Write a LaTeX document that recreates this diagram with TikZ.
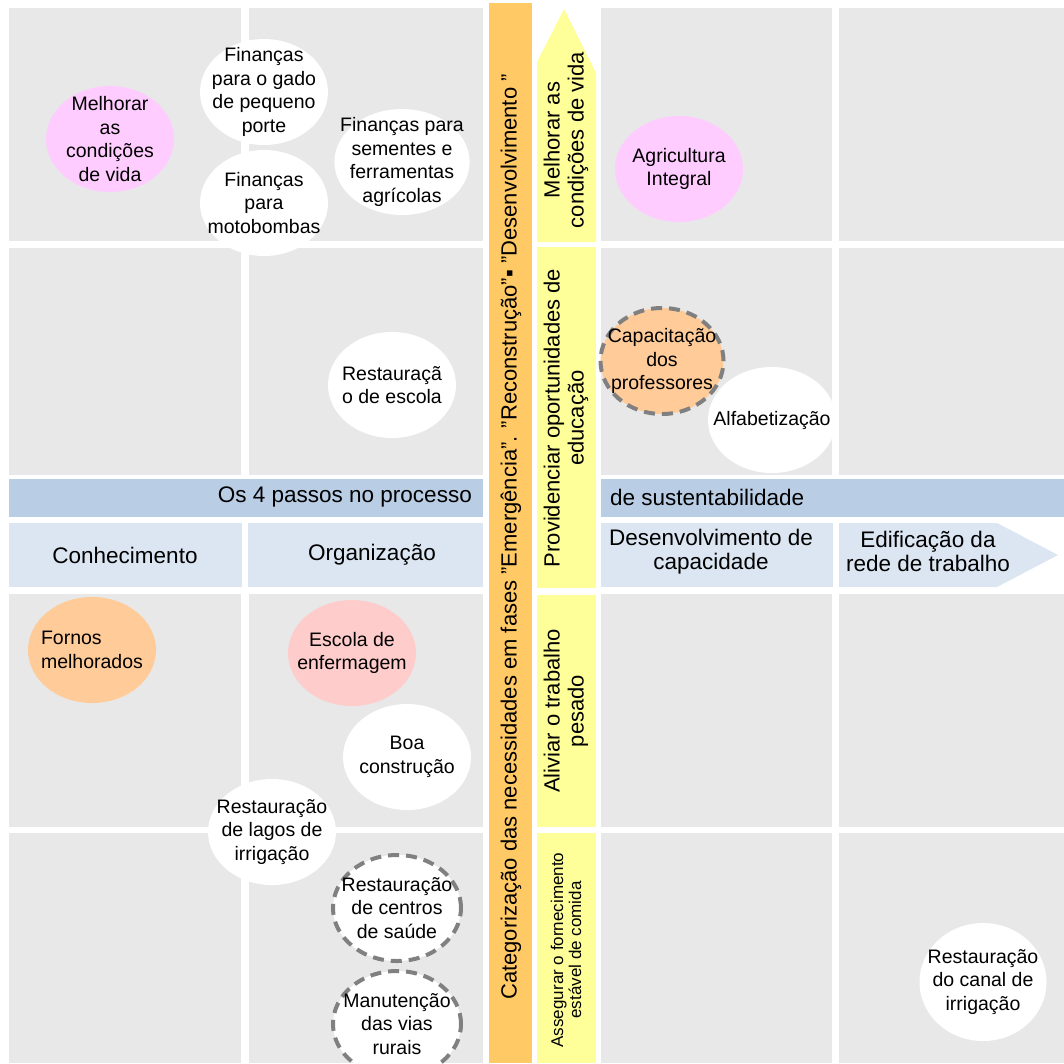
\documentclass[tikz,border=0pt]{standalone}
\usepackage{fontspec}
\setmainfont{Liberation Sans}
\usetikzlibrary{shapes.geometric}

\definecolor{cellgray}{HTML}{E8E8E8}
\definecolor{bandorange}{HTML}{FFC966}
\definecolor{bandyellow}{HTML}{FFFF99}
\definecolor{headblue}{HTML}{B9CDE5}
\definecolor{steplight}{HTML}{DCE6F2}
\definecolor{pinkfill}{HTML}{FFCCFF}
\definecolor{peachfill}{HTML}{FFCC99}
\definecolor{salmonfill}{HTML}{FFCCCC}
\definecolor{ringgray}{HTML}{808080}

\begin{document}
\begin{tikzpicture}[x=1pt,y=-1pt,
  cell/.style={fill=cellgray},
  bubble/.style={ellipse,fill=white,inner sep=-14pt,minimum width=128pt,minimum height=106pt,
    align=center,font=\fontsize{19.5}{23.5}\selectfont},
  dashring/.style={draw=ringgray,line width=4pt,dash pattern=on 11pt off 7pt},
  head/.style={align=center,inner sep=0pt,font=\fontsize{22.5}{24}\selectfont},
  side/.style={head,rotate=90,font=\fontsize{22}{24}\selectfont}]

  \useasboundingbox (0,0) rectangle (1064,1063);

  \foreach \xa/\xb in {9/241,249/483,601/832,839/1064}
    \foreach \ya/\yb in {8/241,248/475,594/827,833/1063}
      \fill[cell] (\xa,\ya) rectangle (\xb,\yb);

  \fill[headblue] (9,479) rectangle (483,517);
  \fill[headblue] (601,479) rectangle (1064,517);
  \fill[steplight] (9,523) rectangle (242,587);
  \fill[steplight] (248,523) rectangle (483,587);
  \fill[steplight] (601,523) rectangle (833,587);
  \fill[steplight] (839,523) -- (997,523) -- (1058,555) -- (997,587) -- (839,587) -- cycle;

  \fill[bandorange] (489,3) rectangle (532,1063);
  \fill[bandyellow] (537,242) -- (537,62) -- (564,9) -- (596,73) -- (596,242) -- cycle;
  \fill[bandyellow] (537,247) rectangle (596,588);
  \fill[bandyellow] (537,595) rectangle (596,827);
  \fill[bandyellow] (537,833) rectangle (596,1063);

  \node[head,anchor=east] (passos) at (472,497) {Os 4 passos no processo};
  \node[head,anchor=west] (sustent) at (610,497) {de sustentabilidade};
  \node[head] (conhec) at (125,555) {Conhecimento};
  \node[head] (organiz) at (372,555) {Organização};
  \node[head] (desenv) at (711,552) {Desenvolvimento de\\capacidade};
  \node[head] (edific) at (928,551) {Edificação da\\rede de trabalho};

  \node[side] (fases) at (511,537) {Categorização das necessidades em fases "Emergência". "Reconstrução"▪ "Desenvolvimento "};
  \node[side] (mvida) at (566,140) {Melhorar as\\condições de vida};
  \node[side] (educ) at (566,418) {Providenciar oportunidades de\\educação};
  \node[side] (pesado) at (566,711) {Aliviar o trabalho\\pesado};
  \node[side,font=\fontsize{17}{18}\selectfont] (comida) at (566,950) {Assegurar o fornecimento\\estável de comida};

  \node[bubble,fill=pinkfill] (melhorar) at (110,139) {Melhorar\\as\\condições\\de vida};
  \node[bubble] (gado) at (264,92) {Finanças\\para o gado\\de pequeno\\porte};
  \node[bubble] (motobombas) at (264,203) {Finanças\\para\\motobombas};
  \node[bubble] (sementes) at (402,162) {Finanças para\\sementes e\\ferramentas\\agrícolas};
  \node[bubble] (escola) at (392,385) {Restauraçã\\o de escola};
  \node[bubble,fill=pinkfill] (agricultura) at (679,169) {Agricultura\\Integral};
  \node[bubble] (alfabet) at (772,420) {Alfabetização};
  \node[bubble,fill=peachfill,dashring,minimum width=123pt] (capacit) at (662,361) {Capacitação\\dos\\professores};
  \node[bubble,fill=peachfill,align=left] (fornos) at (92,650) {Fornos\\melhorados};
  \node[bubble,fill=salmonfill] (enferm) at (352,653) {Escola de\\enfermagem};
  \node[bubble] (boa) at (407,757) {Boa\\construção};
  \node[bubble] (lagos) at (272,832) {Restauração\\de lagos de\\irrigação};
  \node[bubble,dashring] (saude) at (397,908) {Restauração\\de centros\\de saúde};
  \node[bubble,dashring] (vias) at (397,1024) {Manutenção\\das vias\\rurais};
  \node[bubble,minimum width=127pt,minimum height=118pt] (canal) at (983,982) {Restauração\\do canal de\\irrigação};

\end{tikzpicture}
\end{document}
